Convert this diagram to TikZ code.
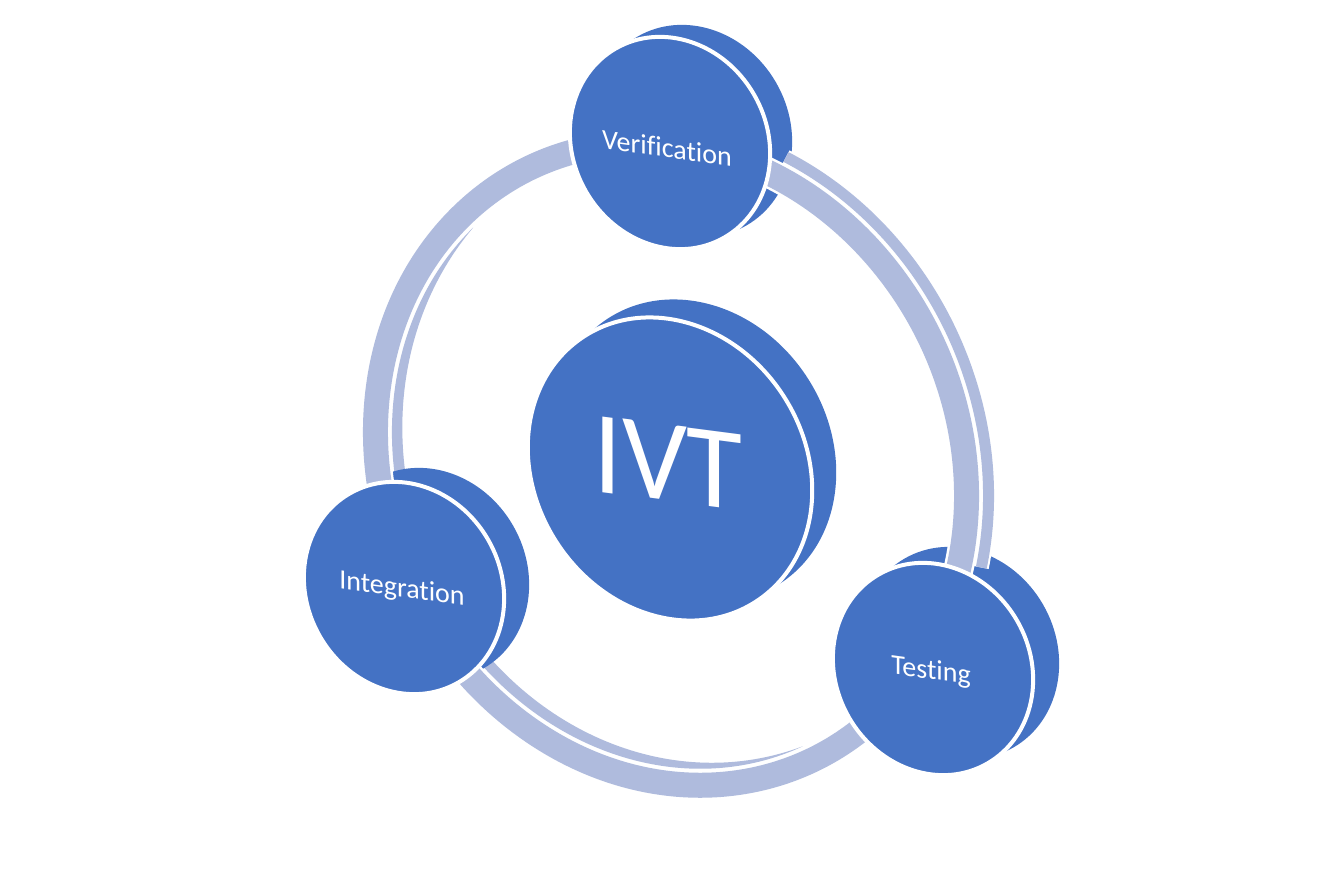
\documentclass[tikz,border=0pt]{standalone}
\usepackage{fontspec}
\setmainfont{Carlito}[Ligatures={NoCommon,NoContextual}]
\definecolor{diskblue}{HTML}{4472C4}
\definecolor{bandblue}{HTML}{AFBBDD}
\begin{document}
\begin{tikzpicture}[x=1pt,y=-1pt,
  backdisk/.style={fill=diskblue},
  frontdisk/.style={fill=diskblue, draw=white, line width=4pt},
  thickband/.style={draw=bandblue, line width=25pt, preaction={draw=white, line width=30pt}},
  thinfill/.style={fill=bandblue, preaction={draw=white, line width=4pt}},
  thinline/.style={draw=bandblue, line width=11pt, preaction={draw=white, line width=15pt}},
  lbl/.style={text=white, font=\fontsize{28}{30}\selectfont, yslant=-0.14, inner sep=0pt},
  biglbl/.style={text=white, font=\fontsize{118}{120}\selectfont, yslant=-0.13, inner sep=0pt}
]
\fill[white] (0,0) rectangle (1334,889);
\useasboundingbox (0,0) rectangle (1334,889);

% disk centres
\coordinate (vf) at (670,143);
\coordinate (vb) at (692,131);
\coordinate (if) at (404,588);
\coordinate (ib) at (429,574);
\coordinate (tf) at (933,669);
\coordinate (tb) at (959,653);
\coordinate (cf) at (670,469);
\coordinate (cb) at (694,451);
\coordinate (ring) at (671,464);

% thin side bands of the ring that lie behind the disk rims (tapered)
\begin{scope}[shift={(ring)}, rotate=-65]
  \path[thinfill] (91:311.5 and 271.5) arc[start angle=91, end angle=163, x radius=311.5, y radius=271.5]
     -- plot[domain=163:91, samples=60, variable=\t]
        ({(311.5-11*(1-((\t-91)/72)^3))*cos(\t)}, {(271.5-11*(1-((\t-91)/72)^3))*sin(\t)})
     -- cycle;
  \path[thinfill] (91:311.5 and 271.5) arc[start angle=91, end angle=0, x radius=311.5, y radius=271.5]
     -- plot[domain=0:91, samples=70, variable=\t]
        ({(311.5-11*(1-((91-\t)/91)^3))*cos(\t)}, {(271.5-11*(1-((91-\t)/91)^3))*sin(\t)})
     -- cycle;
\end{scope}

% back disks
\fill[backdisk, rotate around={30:(vb)}] (vb) ellipse[x radius=97, y radius=109];
\fill[backdisk, rotate around={30:(ib)}] (ib) ellipse[x radius=97, y radius=109];
\fill[backdisk, rotate around={30:(tb)}] (tb) ellipse[x radius=97, y radius=109];
\fill[backdisk, rotate around={33:(cb)}] (cb) ellipse[x radius=135, y radius=158];

% outer thin band and thick ring bands
\begin{scope}[shift={(ring)}, rotate=-65]
  \draw[thinline] (229:350 and 310) arc[start angle=229, end angle=310, x radius=350, y radius=310];
  \draw[thickband] (209:328 and 288) arc[start angle=209, end angle=91, x radius=328, y radius=288];
  \draw[thickband] (209:328 and 288) arc[start angle=209, end angle=328, x radius=328, y radius=288];
  \draw[thickband] (-32:328 and 288) arc[start angle=-32, end angle=91, x radius=328, y radius=288];
\end{scope}

% front disks
\path[frontdisk, rotate around={30:(vf)}] (vf) ellipse[x radius=97, y radius=109];
\path[frontdisk, rotate around={30:(if)}] (if) ellipse[x radius=97, y radius=109];
\path[frontdisk, rotate around={30:(tf)}] (tf) ellipse[x radius=97, y radius=109];
\path[frontdisk, rotate around={33:(cf)}] (cf) ellipse[x radius=135, y radius=158];

% labels
\node[lbl] (vt) at (667,148) {Verification};
\node[lbl] (it) at (402,590) {Integration};
\node[lbl] (tt) at (931,672) {Testing};
\node[biglbl] (ivt) at (668,463) {\scalebox{0.97}[1]{IVT}};
\end{tikzpicture}
\end{document}
